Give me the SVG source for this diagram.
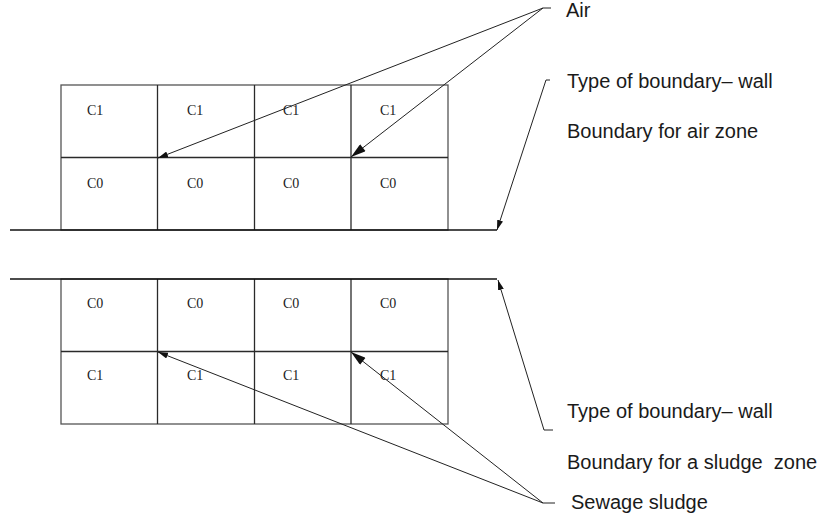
<svg xmlns="http://www.w3.org/2000/svg" width="827" height="518" viewBox="0 0 827 518">
<style>
.g{fill:none;stroke:#2a2a2a;stroke-width:1.3}
.e{fill:none;stroke:#555;stroke-width:1.3}
.w{fill:none;stroke:#111;stroke-width:1.6}
.c{fill:none;stroke:#222;stroke-width:1}
.cl{font-family:"Liberation Serif",serif;font-size:14px;fill:#222}
.lb{font-family:"Liberation Sans",Arial,sans-serif;font-size:20px;fill:#1a1a1a;white-space:pre}
</style>
<defs>
<marker id="ah" viewBox="0 0 10 6" refX="10" refY="3" markerWidth="10" markerHeight="6" markerUnits="userSpaceOnUse" orient="auto"><path d="M0,0 L10,3 L0,6 Z" fill="#111"/></marker>
<marker id="ahl" viewBox="0 0 10 6" refX="10" refY="3" markerWidth="16" markerHeight="9" markerUnits="userSpaceOnUse" orient="auto"><path d="M0,0 L10,3 L0,6 Z" fill="#111"/></marker>
</defs>
<g id="air-zone">
<rect class="e" x="61" y="85" width="387" height="145"/>
<line class="g" x1="61" y1="157.5" x2="448" y2="157.5"/>
<line class="g" x1="157.5" y1="85" x2="157.5" y2="230"/>
<line class="g" x1="254.5" y1="85" x2="254.5" y2="230"/>
<line class="g" x1="351" y1="85" x2="351" y2="230"/>
<line class="w" x1="10" y1="230" x2="497" y2="230"/>
<text class="cl" x="87" y="115">C1</text>
<text class="cl" x="187" y="115">C1</text>
<text class="cl" x="283" y="115">C1</text>
<text class="cl" x="380" y="115">C1</text>
<text class="cl" x="87" y="188">C0</text>
<text class="cl" x="187" y="188">C0</text>
<text class="cl" x="283" y="188">C0</text>
<text class="cl" x="380" y="188">C0</text>
</g>
<g id="sludge-zone">
<rect class="e" x="61" y="279" width="387" height="145"/>
<line class="g" x1="61" y1="351.5" x2="448" y2="351.5"/>
<line class="g" x1="157.5" y1="279" x2="157.5" y2="424"/>
<line class="g" x1="254.5" y1="279" x2="254.5" y2="424"/>
<line class="g" x1="351" y1="279" x2="351" y2="424"/>
<line class="w" x1="10" y1="279" x2="497" y2="279"/>
<text class="cl" x="87" y="308">C0</text>
<text class="cl" x="187" y="308">C0</text>
<text class="cl" x="283" y="308">C0</text>
<text class="cl" x="380" y="308">C0</text>
<text class="cl" x="87" y="380">C1</text>
<text class="cl" x="187" y="380">C1</text>
<text class="cl" x="283" y="380">C1</text>
<text class="cl" x="380" y="380">C1</text>
</g>
<g id="labels">
<text class="lb" x="566" y="17">Air</text>
<text class="lb" x="567" y="88">Type of boundary– wall</text>
<text class="lb" x="567" y="138">Boundary for air zone</text>
<text class="lb" x="567" y="418">Type of boundary– wall</text>
<text class="lb" x="567" y="469" xml:space="preserve">Boundary for a sludge  zone</text>
<text class="lb" x="571" y="509">Sewage sludge</text>
</g>
<g id="connectors">
<line class="c" x1="551" y1="8" x2="543" y2="8"/>
<line class="c" x1="543" y1="8" x2="158" y2="158" marker-end="url(#ah)"/>
<line class="c" x1="543" y1="8" x2="351" y2="157" marker-end="url(#ahl)"/>
<line class="c" x1="550" y1="80" x2="546" y2="80"/>
<line class="c" x1="546" y1="80" x2="497" y2="230" marker-end="url(#ah)"/>
<line class="c" x1="553" y1="430" x2="544" y2="430"/>
<line class="c" x1="544" y1="430" x2="498" y2="280" marker-end="url(#ah)"/>
<line class="c" x1="555" y1="503" x2="543" y2="503"/>
<line class="c" x1="543" y1="503" x2="158" y2="352" marker-end="url(#ah)"/>
<line class="c" x1="543" y1="503" x2="351" y2="352" marker-end="url(#ahl)"/>
</g>
</svg>
